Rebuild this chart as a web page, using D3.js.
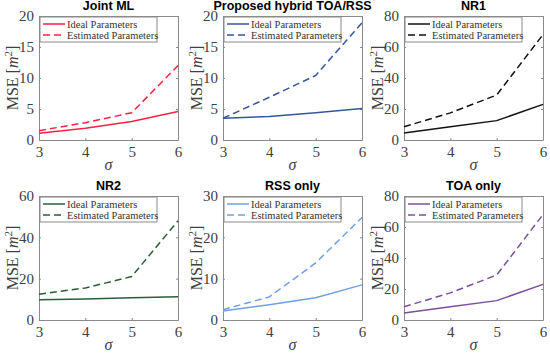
<!DOCTYPE html>
<html>
<head>
<meta charset="utf-8">
<script src="https://cdn.jsdelivr.net/npm/d3@7"></script>
<style>
body { margin: 0; background: #fff; }
svg { display: block; }
</style>
</head>
<body>
<div id="chart"></div>
<script>
// sigma values shared by all panels
var sigmas = [3, 4, 5, 6];

var titles = ["Joint ML", "Proposed hybrid TOA/RSS", "NR1", "NR2", "RSS only", "TOA only"];
var yMax = [20, 20, 80, 60, 30, 80];
var yTicks = [[0, 5, 10, 15, 20], [0, 5, 10, 15, 20], [0, 20, 40, 60, 80],
              [0, 20, 40, 60], [0, 10, 20, 30], [0, 20, 40, 60, 80]];
var colors = ["#fa2244", "#34569e", "#111111", "#2a5e36", "#6fa0e4", "#7c4f9c"];

var ideal = [
  [1.1, 1.9, 3.0, 4.6],
  [3.5, 3.8, 4.4, 5.1],
  [4.5, 8.5, 12.5, 23],
  [9.8, 10.2, 10.8, 11.3],
  [2.2, 3.7, 5.4, 8.5],
  [4.5, 8.5, 12.5, 23]
];
var estimated = [
  [1.5, 2.8, 4.4, 12.0],
  [3.5, 6.9, 10.4, 18.9],
  [8.5, 17.5, 29, 68],
  [12.5, 15.5, 21, 48],
  [2.5, 5.6, 13.8, 24.8],
  [8.5, 17.5, 29, 68]
];
var legendLabels = ["Ideal Parameters", "Estimated Parameters"];

var W = 550, H = 355;
var svg = d3.select("#chart").append("svg").attr("width", W).attr("height", H);

var colLeft = [39, 223, 404], plotW = 139;
var rowTop = [16, 196], plotH = 124;
var serif = "'Liberation Serif', 'DejaVu Serif', serif";

titles.forEach(function(t, i) {
  var col = i % 3, row = Math.floor(i / 3);
  var g = svg.append("g")
    .attr("transform", "translate(" + colLeft[col] + "," + rowTop[row] + ")");

  var x = d3.scaleLinear().domain([3, 6]).range([0, plotW]);
  var y = d3.scaleLinear().domain([0, yMax[i]]).range([plotH, 0]);

  // axes with inward ticks
  var xb = g.append("g").attr("transform", "translate(0," + plotH + ")")
    .call(d3.axisBottom(x).tickValues(sigmas).tickSizeInner(-2).tickSizeOuter(0).tickPadding(6).tickFormat(d3.format("d")));
  var xt = g.append("g")
    .call(d3.axisTop(x).tickValues(sigmas).tickSizeInner(-2).tickSizeOuter(0).tickFormat(""));
  var yl = g.append("g")
    .call(d3.axisLeft(y).tickValues(yTicks[i]).tickSizeInner(-2).tickSizeOuter(0).tickPadding(5));
  var yr = g.append("g").attr("transform", "translate(" + plotW + ",0)")
    .call(d3.axisRight(y).tickValues(yTicks[i]).tickSizeInner(-2).tickSizeOuter(0).tickFormat(""));
  [xb, xt, yl, yr].forEach(function(a) {
    a.select(".domain").attr("stroke", "#8a8a8a").attr("stroke-width", 1);
    a.selectAll(".tick line").attr("stroke", "#8a8a8a");
    a.selectAll("text").attr("font-family", serif).attr("font-size", 15).attr("fill", "#404040");
  });

  var line = d3.line()
    .x(function(d, k) { return x(sigmas[k]); })
    .y(function(d) { return y(d); });

  g.append("path").datum(ideal[i])
    .attr("d", line).attr("fill", "none")
    .attr("stroke", colors[i]).attr("stroke-width", 1.5);
  g.append("path").datum(estimated[i])
    .attr("d", line).attr("fill", "none")
    .attr("stroke", colors[i]).attr("stroke-width", 1.5)
    .attr("stroke-dasharray", "7,4");

  // legend
  var lg = g.append("g").attr("transform", "translate(1,1)");
  lg.append("rect").attr("width", 117).attr("height", 25)
    .attr("fill", "#fff").attr("stroke", "#8a8a8a").attr("stroke-width", 1);
  legendLabels.forEach(function(lab, k) {
    var ly = 7 + k * 11;
    lg.append("line").attr("x1", 3).attr("x2", 25).attr("y1", ly).attr("y2", ly)
      .attr("stroke", colors[i]).attr("stroke-width", 1.5)
      .attr("stroke-dasharray", k === 1 ? "7,4" : null);
    lg.append("text").attr("x", 27).attr("y", ly + 3.5)
      .attr("font-family", serif).attr("font-size", 10.5).attr("fill", "#333")
      .text(lab);
  });

  // title
  svg.append("text")
    .attr("x", colLeft[col] + plotW / 2).attr("y", rowTop[row] - 6)
    .attr("text-anchor", "middle")
    .attr("font-family", "'Liberation Sans', Arial, sans-serif")
    .attr("font-weight", "bold").attr("font-size", 12.5).attr("fill", "#000")
    .text(t);

  // x label
  g.append("text")
    .attr("x", plotW / 2).attr("y", plotH + 30)
    .attr("text-anchor", "middle")
    .attr("font-family", serif).attr("font-style", "italic").attr("font-size", 16).attr("fill", "#404040")
    .text("σ");

  // y label
  var yt = g.append("text")
    .attr("transform", "translate(" + (-21) + "," + (plotH / 2) + ") rotate(-90)")
    .attr("text-anchor", "middle")
    .attr("font-family", serif).attr("font-size", 16).attr("fill", "#404040");
  yt.append("tspan").text("MSE [");
  yt.append("tspan").attr("font-style", "italic").text("m");
  yt.append("tspan").attr("font-size", 11).attr("dy", -6).text("2");
  yt.append("tspan").attr("dy", 6).text("]");
});
</script>
</body>
</html>
